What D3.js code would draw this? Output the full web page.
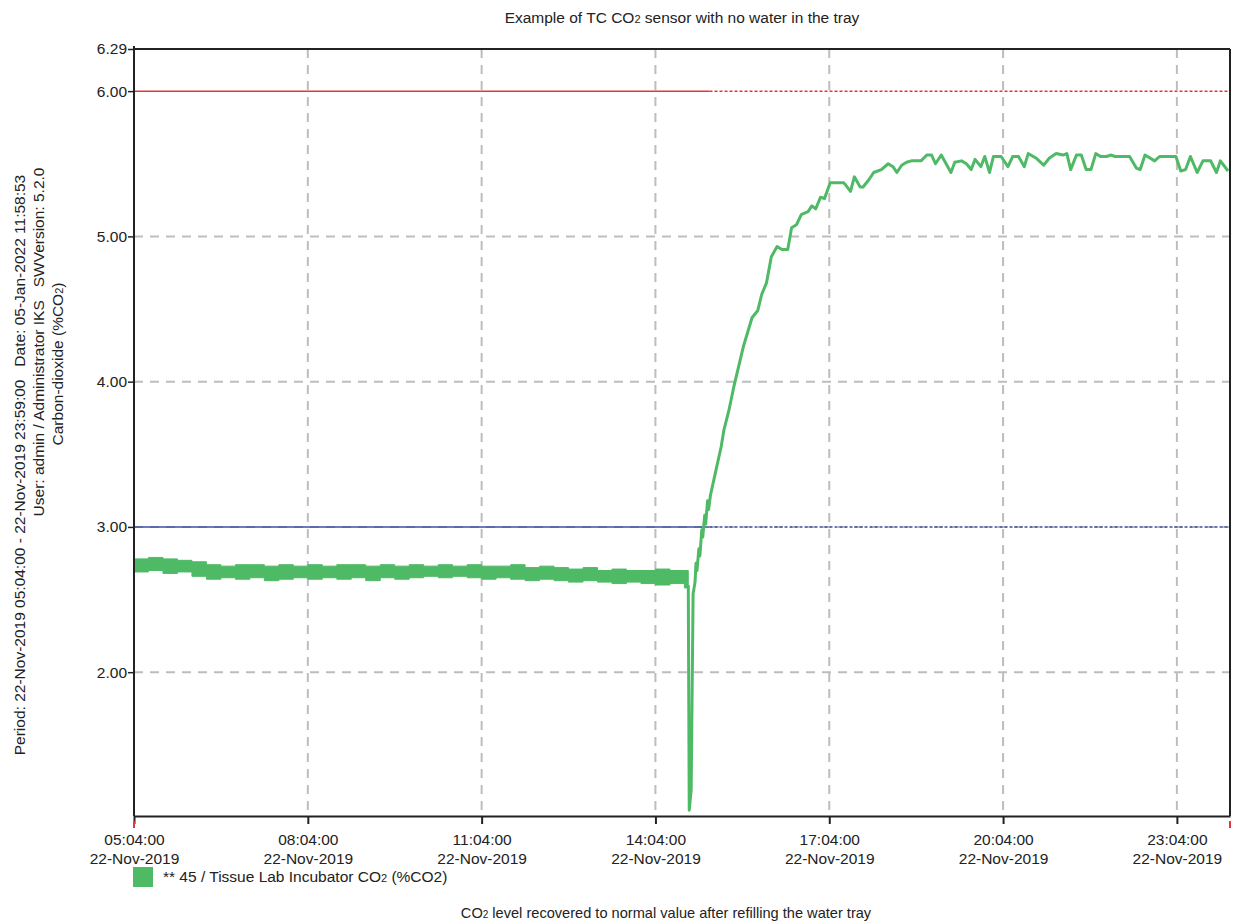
<!DOCTYPE html>
<html>
<head>
<meta charset="utf-8">
<script src="https://cdn.jsdelivr.net/npm/d3@7"></script>
<style>
  body { margin: 0; background: #fff; }
  text { font-family: "Liberation Sans", Arial, sans-serif; fill: #222; }
</style>
</head>
<body>
<script>
// x tick labels (times on 22-Nov-2019)
var tickTimes = ["05:04", "08:04", "11:04", "14:04", "17:04", "20:04", "23:04"];
var yTicks = [2, 3, 4, 5, 6, 6.29];

// alarm limits (solid until alarmEnd, dotted afterwards)
var alarmHigh = 6.0, alarmLow = 3.0, alarmEnd = "15:00";

// noisy period: envelope of the sampled CO2 values (every 15 min)
var bandTimes = ["05:04","05:19","05:34","05:49","06:04","06:19","06:34","06:49","07:04","07:19",
                 "07:34","07:49","08:04","08:19","08:34","08:49","09:04","09:19","09:34","09:49",
                 "10:04","10:19","10:34","10:49","11:04","11:19","11:34","11:49","12:04","12:19",
                 "12:34","12:49","13:04","13:19","13:34","13:49","14:04","14:19","14:34","14:38"];
var bandLow  = [2.69,2.70,2.68,2.69,2.66,2.64,2.65,2.64,2.65,2.63,
                2.64,2.65,2.64,2.65,2.64,2.65,2.63,2.65,2.64,2.65,
                2.66,2.65,2.66,2.65,2.64,2.65,2.64,2.63,2.64,2.63,
                2.62,2.63,2.62,2.61,2.62,2.61,2.60,2.61,2.58,2.58];
var bandHigh = [2.78,2.79,2.78,2.77,2.76,2.74,2.73,2.74,2.74,2.73,
                2.74,2.73,2.74,2.73,2.74,2.74,2.73,2.74,2.73,2.74,
                2.73,2.74,2.73,2.74,2.73,2.73,2.74,2.72,2.73,2.72,
                2.71,2.72,2.70,2.71,2.70,2.70,2.71,2.70,2.70,2.70];

// drop and recovery after refilling the tray
var lineTimes = ["14:38","14:39","14:41","14:43","14:45","14:46","14:47","14:49","14:50","14:52",
                 "14:53","14:55","14:56","14:58","14:59","15:01",
                 "15:06","15:12","15:15","15:20","15:25","15:30","15:35","15:44","15:50","15:54",
                 "15:59","16:04","16:10","16:15","16:21","16:25","16:30","16:35","16:42","16:46",
                 "16:50","16:55","16:59","17:05","17:19","17:26","17:30","17:36","17:39","17:45",
                 "17:50","17:58","18:05","18:10","18:14","18:19","18:24","18:29","18:39","18:45",
                 "18:50","18:54","19:00","19:05","19:10","19:14","19:21","19:26","19:31","19:35",
                 "19:41","19:45","19:50","19:54","20:02","20:09","20:14","20:20","20:26","20:30",
                 "20:38","20:46","20:52","20:59","21:06","21:10","21:14","21:20","21:25","21:30",
                 "21:35","21:40","21:45","21:51","21:56","22:00","22:15","22:22","22:26","22:31",
                 "22:41","22:46","23:03","23:08","23:13","23:18","23:25","23:31","23:39","23:45",
                 "23:49","23:57"];
var lineValues = [2.60,1.05,1.19,2.54,2.62,2.75,2.70,2.85,2.80,2.98,
                  2.93,3.08,3.02,3.18,3.12,3.22,
                  3.37,3.55,3.67,3.80,3.96,4.10,4.24,4.44,4.49,4.60,
                  4.68,4.86,4.93,4.91,4.91,5.06,5.08,5.15,5.17,5.21,
                  5.19,5.27,5.26,5.37,5.37,5.31,5.41,5.34,5.34,5.39,
                  5.44,5.46,5.50,5.48,5.44,5.49,5.51,5.52,5.52,5.56,
                  5.56,5.50,5.56,5.50,5.44,5.51,5.52,5.50,5.46,5.53,
                  5.48,5.55,5.44,5.55,5.55,5.48,5.55,5.55,5.48,5.57,
                  5.54,5.49,5.54,5.57,5.56,5.57,5.46,5.56,5.56,5.46,
                  5.46,5.57,5.55,5.55,5.56,5.55,5.55,5.47,5.46,5.56,
                  5.52,5.55,5.55,5.45,5.46,5.55,5.44,5.52,5.52,5.44,
                  5.52,5.45];

var width = 1234, height = 924;
var margin = { left: 134, right: 4, top: 49, bottom: 108 };
var green = "#4fba66";
var fs = "15.5px";

var parse = d3.timeParse("%d-%b-%Y %H:%M");
function t(s) { return parse("22-Nov-2019 " + s); }

var svg = d3.select("body").append("svg")
    .attr("width", width)
    .attr("height", height);

var x = d3.scaleTime()
    .domain([t("05:04"), t("23:59")])
    .range([margin.left, width - margin.right]);

var y = d3.scaleLinear()
    .domain([1.01, 6.29])
    .range([height - margin.bottom, margin.top]);

var x0 = x.range()[0], x1 = x.range()[1];
var yTop = y.range()[1], yBot = y.range()[0];

// grid
svg.append("g").selectAll("line")
  .data(tickTimes.slice(1))
  .join("line")
    .attr("x1", d => x(t(d))).attr("x2", d => x(t(d)))
    .attr("y1", yTop).attr("y2", yBot)
    .attr("stroke", "#bdbdbd").attr("stroke-width", 2)
    .attr("stroke-dasharray", "9,7");

svg.append("g").selectAll("line")
  .data(yTicks.filter(v => v < 6))
  .join("line")
    .attr("x1", x0).attr("x2", x1)
    .attr("y1", d => y(d)).attr("y2", d => y(d))
    .attr("stroke", "#bdbdbd").attr("stroke-width", 2)
    .attr("stroke-dasharray", "9,7");

// alarm lines
function alarm(v, color) {
  svg.append("line")
      .attr("x1", x0).attr("x2", x(t(alarmEnd)))
      .attr("y1", y(v)).attr("y2", y(v))
      .attr("stroke", color).attr("stroke-width", 1.5);
  svg.append("line")
      .attr("x1", x(t(alarmEnd))).attr("x2", x1)
      .attr("y1", y(v)).attr("y2", y(v))
      .attr("stroke", color).attr("stroke-width", 1.5)
      .attr("stroke-dasharray", "3,2");
}
alarm(alarmHigh, "#e8353b");
alarm(alarmLow, "#3d4fa5");

// noisy band
var band = bandTimes.map((d, i) => ({ time: t(d), lo: bandLow[i], hi: bandHigh[i] }));
svg.append("path")
    .datum(band)
    .attr("fill", green)
    .attr("stroke", green)
    .attr("stroke-width", 1)
    .attr("d", d3.area()
      .x(d => x(d.time))
      .y0(d => y(d.lo))
      .y1(d => y(d.hi))
      .curve(d3.curveStepAfter));

// recovery line
var series = lineTimes.map((d, i) => ({ time: t(d), value: lineValues[i] }));
svg.append("path")
    .datum(series)
    .attr("fill", "none")
    .attr("stroke", green)
    .attr("stroke-width", 3)
    .attr("stroke-linejoin", "round")
    .attr("d", d3.line()
      .x(d => x(d.time))
      .y(d => y(d.value)));

// frame
svg.append("line").attr("x1", x0).attr("x2", x1).attr("y1", yTop).attr("y2", yTop)
    .attr("stroke", "#222").attr("stroke-width", 2);
svg.append("line").attr("x1", x1).attr("x2", x1).attr("y1", yTop).attr("y2", yBot)
    .attr("stroke", "#222").attr("stroke-width", 2);

// x axis
var xAxis = svg.append("g")
    .attr("transform", `translate(0,${yBot})`)
    .call(d3.axisBottom(x)
      .tickValues(tickTimes.map(t))
      .tickSize(8)
      .tickSizeOuter(0)
      .tickFormat(""));
xAxis.select(".domain").attr("stroke", "#222").attr("stroke-width", 2);
xAxis.selectAll(".tick line").attr("stroke", "#222").attr("stroke-width", 2);
xAxis.selectAll(".tick text").remove();
xAxis.selectAll(".tick").each(function(d) {
  var g = d3.select(this);
  g.append("text").attr("y", 29).attr("text-anchor", "middle").style("font-size", fs)
      .text(d3.timeFormat("%H:%M:%S")(d));
  g.append("text").attr("y", 48).attr("text-anchor", "middle").style("font-size", fs)
      .text(d3.timeFormat("%d-%b-%Y")(d));
});

// red range markers below the axis
svg.append("g").selectAll("line")
  .data([t("05:04"), t("23:59")])
  .join("line")
    .attr("x1", d => x(d)).attr("x2", d => x(d))
    .attr("y1", yBot + 5).attr("y2", yBot + 12)
    .attr("stroke", "#e8353b").attr("stroke-width", 2);

// y axis
var yAxis = svg.append("g")
    .attr("transform", `translate(${x0},0)`)
    .call(d3.axisLeft(y)
      .tickValues(yTicks)
      .tickSize(6)
      .tickSizeOuter(0)
      .tickFormat(d3.format(".2f")));
yAxis.select(".domain").attr("stroke", "#222").attr("stroke-width", 2)
    .attr("d", `M0,${yTop - 3}V${yBot}`);
yAxis.selectAll(".tick line").attr("stroke", "#222").attr("stroke-width", 1.5);
yAxis.selectAll(".tick text").style("font-size", fs).attr("x", -7)
    .style("font-family", "'Liberation Sans', Arial, sans-serif").attr("fill", "#222");

// title
var title = svg.append("text")
    .attr("x", (x0 + x1) / 2).attr("y", 23)
    .attr("text-anchor", "middle")
    .style("font-size", fs);
title.append("tspan").text("Example of TC CO");
title.append("tspan").text("2").style("font-size", "11px");
title.append("tspan").text(" sensor with no water in the tray");

// left rotated info
var info = [
  { text: "Period: 22-Nov-2019 05:04:00 - 22-Nov-2019 23:59:00\u00a0\u00a0\u00a0Date: 05-Jan-2022 11:58:53", x: 25, y: 465 },
  { text: "User: admin / Administrator IKS\u00a0\u00a0\u00a0SWVersion: 5.2.0", x: 44, y: 342 }
];
info.forEach(d => {
  svg.append("text")
      .attr("transform", `translate(${d.x},${d.y}) rotate(-90)`)
      .attr("text-anchor", "middle")
      .style("font-size", fs)
      .text(d.text);
});
var yLabel = svg.append("text")
    .attr("transform", "translate(63,364) rotate(-90)")
    .attr("text-anchor", "middle")
    .style("font-size", fs);
yLabel.append("tspan").text("Carbon-dioxide (%CO");
yLabel.append("tspan").text("2").style("font-size", "11px");
yLabel.append("tspan").text(")");

// legend
svg.append("rect")
    .attr("x", 133).attr("y", 867)
    .attr("width", 20).attr("height", 20)
    .attr("fill", green);
var leg = svg.append("text")
    .attr("x", 163).attr("y", 882)
    .style("font-size", fs);
leg.append("tspan").text("** 45 / Tissue Lab Incubator CO");
leg.append("tspan").text("2").style("font-size", "11px");
leg.append("tspan").text(" (%CO2)");

// caption
var cap = svg.append("text")
    .attr("x", 666).attr("y", 918)
    .attr("text-anchor", "middle")
    .style("font-size", "14.6px");
cap.append("tspan").text("CO");
cap.append("tspan").text("2").style("font-size", "10px");
cap.append("tspan").text(" level recovered to normal value after refilling the water tray");
</script>
</body>
</html>
